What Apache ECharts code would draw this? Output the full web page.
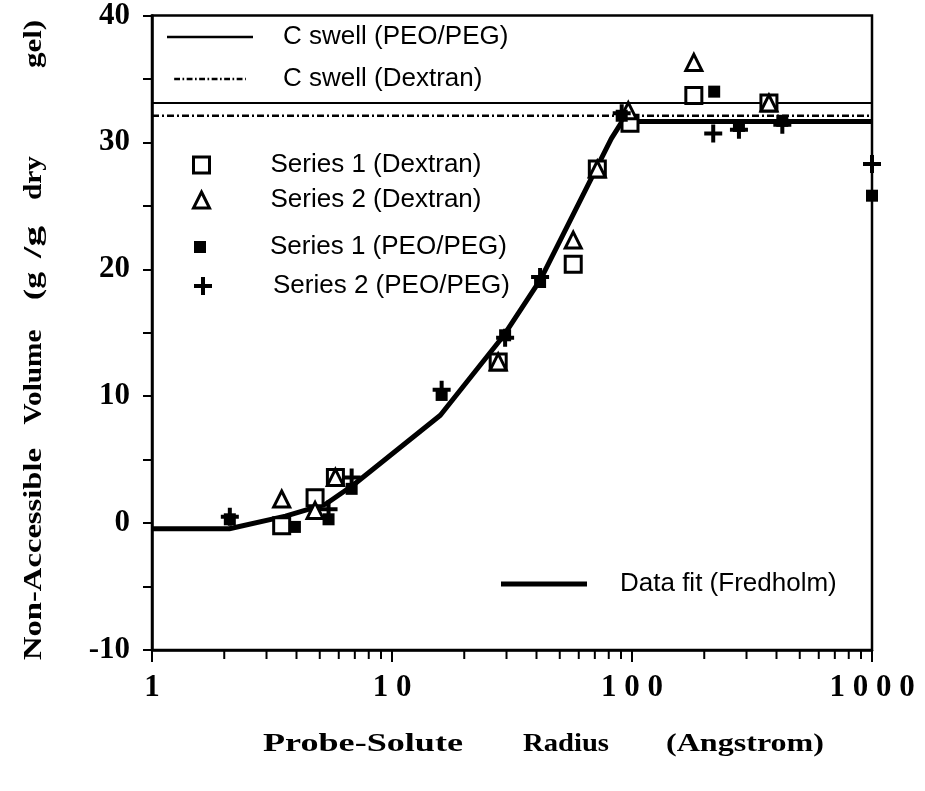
<!DOCTYPE html>
<html>
<head>
<meta charset="utf-8">
<script src="https://cdn.jsdelivr.net/npm/echarts@6/dist/echarts.min.js"></script>
<style>html,body{margin:0;padding:0;background:#fff}#c{width:925px;height:791px}</style>
</head>
<body>
<div id="c"></div>
<script>
// ---------- data ----------
const xTicks = [1, 10, 100, 1000];
const xTickLabels = ['1', '1 0', '1 0 0', '1 0 0 0'];
const xMinorTicks = [2,3,4,5,6,7,8,9,20,30,40,50,60,70,80,90,200,300,400,500,600,700,800,900];

const cSwellPEO = [[1, 33.1], [1000, 33.1]];
const cSwellDextran = [[1, 32.1], [1000, 32.1]];

const fitX = [1, 2.1, 3.6, 5.3, 6.9, 15.9, 29, 41.6, 82, 91, 1000];
const fitY = [-0.45, -0.45, 0.55, 1.5, 3.0, 8.5, 14.7, 19.2, 30.3, 31.65, 31.65];

const s1DextranX = [3.47, 4.78, 5.81, 27.7, 56.9, 71.7, 98.1, 181, 372];
const s1DextranY = [-0.2, 2.0, 3.6, 12.7, 20.4, 27.9, 31.5, 33.7, 33.1];

const s2DextranX = [3.47, 4.78, 5.81, 27.7, 56.9, 71.7, 96.5, 181, 372];
const s2DextranY = [1.9, 1.0, 3.6, 12.7, 22.3, 27.9, 32.5, 36.3, 33.1];

const s1PEOX = [2.11, 3.94, 5.44, 6.79, 16.1, 29.6, 41.4, 90.6, 220, 279, 423, 1000];
const s1PEOY = [0.3, -0.3, 0.3, 2.7, 10.1, 14.8, 19.0, 32.1, 34.0, 31.3, 31.7, 25.8];

const s2PEOX = [2.11, 5.44, 6.79, 16.1, 29.6, 41.4, 90.6, 218, 279, 423, 1000];
const s2PEOY = [0.5, 1.1, 3.6, 10.5, 14.6, 19.4, 32.3, 30.7, 31.0, 31.4, 28.3];

// ---------- helpers ----------
const zip = (xs, ys) => xs.map((x, i) => [x, ys[i]]);
const BLACK = '#000';
const LEG_FONT = 'Liberation Sans';
const SERIF = 'Liberation Serif';
const PLUS = 'path://M7,0H11V7H18V11H11V18H7V11H0V7H7Z';
const DASHDOT = [7, 3, 2, 3];

// dash-dot legend icon as a path of small bars (86 x 3 box)
const dashDotIcon = (() => {
  let d = '', x = 0, i = 0;
  while (x < 86) {
    const len = Math.min(DASHDOT[i % 4], 86 - x);
    if (i % 2 === 0) d += 'M' + x + ',0h' + len + 'v3h-' + len + 'z';
    x += DASHDOT[i % 4]; i++;
  }
  return 'path://' + d;
})();

const chart = echarts.init(document.getElementById('c'), null, {renderer: 'canvas'});

const measure = (() => {
  const ctx = document.createElement('canvas').getContext('2d');
  return (txt, font) => { ctx.font = font; return ctx.measureText(txt).width; };
})();

function titleWord(text, cx, cy, target, rotate) {
  const font = 'bold 25px "' + SERIF + '"';
  const w = measure(text, font) || target;
  return {
    type: 'text', x: cx, y: cy, rotation: rotate ? Math.PI / 2 : 0,
    scaleX: target / w, scaleY: 1, silent: true,
    style: {text: text, font: font, fill: BLACK, align: 'center', verticalAlign: 'middle'}
  };
}

const legText = (pad) => ({fontFamily: LEG_FONT, fontSize: 26, color: BLACK, lineHeight: 28, padding: [0, 0, 0, pad]});
const hollow = {color: '#fff', borderColor: BLACK, borderWidth: 3, opacity: 1};
const solidLeg = {color: BLACK, borderWidth: 0, opacity: 1};

const option = {
  animation: false,
  backgroundColor: '#fff',
  grid: {left: 152, right: 53, top: 15, bottom: 141, show: true, borderColor: BLACK, borderWidth: 2.5, backgroundColor: 'transparent'},
  xAxis: {
    type: 'log', logBase: 10, min: 1, max: 1000,
    axisLine: {show: true, onZero: false, lineStyle: {color: BLACK, width: 2.5}},
    axisTick: {show: true, length: 12, lineStyle: {color: BLACK, width: 2}},
    splitLine: {show: false},
    axisLabel: {
      color: BLACK, fontFamily: SERIF, fontWeight: 'bold', fontSize: 31, margin: 22,
      formatter: v => { const i = xTicks.indexOf(Math.round(v)); return i >= 0 ? xTickLabels[i] : ''; }
    }
  },
  yAxis: {
    type: 'value', min: -10, max: 40, interval: 10,
    axisLine: {show: true, onZero: false, lineStyle: {color: BLACK, width: 2.5}},
    axisTick: {show: true, length: 9, lineStyle: {color: BLACK, width: 2}},
    minorTick: {show: true, splitNumber: 2, length: 9, lineStyle: {color: BLACK, width: 2}},
    splitLine: {show: false},
    axisLabel: {color: BLACK, fontFamily: SERIF, fontWeight: 'bold', fontSize: 31, margin: 22}
  },
  legend: [
    {
      data: [
        {name: 'C swell (PEO/PEG)', icon: 'rect', itemStyle: solidLeg},
        {name: 'C swell (Dextran)', icon: dashDotIcon, itemStyle: solidLeg}
      ],
      orient: 'vertical', left: 167, top: 23, padding: 0, itemWidth: 86, itemHeight: 2.5, itemGap: 14,
      selectedMode: false, textStyle: legText(25)
    },
    {data: [{name: 'Series 1 (Dextran)', itemStyle: hollow}], left: 192, top: 151, padding: 0, itemWidth: 16, itemHeight: 16,
      selectedMode: false, textStyle: legText(56)},
    {data: [{name: 'Series 2 (Dextran)', itemStyle: hollow}], left: 192, top: 186, padding: 0, itemWidth: 16, itemHeight: 16,
      selectedMode: false, textStyle: legText(56)},
    {data: [{name: 'Series 1 (PEO/PEG)', itemStyle: solidLeg}], left: 194, top: 233, padding: 0, itemWidth: 12, itemHeight: 12,
      selectedMode: false, textStyle: legText(59)},
    {data: [{name: 'Series 2 (PEO/PEG)', itemStyle: solidLeg}], left: 194, top: 272, padding: 0, itemWidth: 18, itemHeight: 18,
      selectedMode: false, textStyle: legText(56)},
    {
      data: [{name: 'Data fit (Fredholm)', icon: 'rect', itemStyle: solidLeg}],
      left: 501, top: 570, padding: 0, itemWidth: 86, itemHeight: 5, selectedMode: false, textStyle: legText(28)
    }
  ],
  graphic: [
    titleWord('Probe-Solute', 363, 745, 200, false),
    titleWord('Radius', 566, 745, 86, false),
    titleWord('(Angstrom)', 745, 745, 158, false),
    titleWord('Non-Accessible', 35, 554, 212, true),
    titleWord('Volume', 35, 377, 95, true),
    titleWord('(g', 35, 286, 28, true),
    titleWord('/g', 35, 242, 32, true),
    titleWord('dry', 35, 178, 44, true),
    titleWord('gel)', 35, 44, 48, true)
  ],
  series: [
    {
      type: 'custom', name: 'minorTicks', data: xMinorTicks.map(v => [v, -10]), clip: false, silent: true, z: 5,
      renderItem: (params, api) => {
        const p = api.coord([api.value(0), api.value(1)]);
        return {type: 'line', shape: {x1: p[0], y1: p[1], x2: p[0], y2: p[1] + 9}, style: {stroke: BLACK, lineWidth: 2}};
      }
    },
    {name: 'C swell (PEO/PEG)', type: 'line', data: cSwellPEO, symbol: 'none', silent: true, z: 2,
      lineStyle: {color: BLACK, width: 2, type: 'solid'}, itemStyle: {color: BLACK}},
    {name: 'C swell (Dextran)', type: 'line', data: cSwellDextran, symbol: 'none', silent: true, z: 2,
      lineStyle: {color: BLACK, width: 2.5, type: DASHDOT}, itemStyle: {color: BLACK}},
    {name: 'Data fit (Fredholm)', type: 'line', data: zip(fitX, fitY), symbol: 'none', silent: true, z: 2,
      lineStyle: {color: BLACK, width: 5, join: 'round'}, itemStyle: {color: BLACK}},
    {name: 'Series 1 (Dextran)', type: 'scatter', data: zip(s1DextranX, s1DextranY), symbol: 'rect', symbolSize: 16,
      clip: false, z: 3, itemStyle: hollow, emphasis: {disabled: true}},
    {name: 'Series 2 (Dextran)', type: 'scatter', data: zip(s2DextranX, s2DextranY), symbol: 'triangle', symbolSize: 16,
      clip: false, z: 4, itemStyle: hollow, emphasis: {disabled: true}},
    {name: 'Series 1 (PEO/PEG)', type: 'scatter', data: zip(s1PEOX, s1PEOY), symbol: 'rect', symbolSize: 12,
      clip: false, z: 5, itemStyle: {color: BLACK, opacity: 1}, emphasis: {disabled: true}},
    {name: 'Series 2 (PEO/PEG)', type: 'scatter', data: zip(s2PEOX, s2PEOY), symbol: PLUS, symbolSize: 18,
      clip: false, z: 6, itemStyle: {color: BLACK, opacity: 1}, emphasis: {disabled: true}}
  ]
};

chart.setOption(option);
</script>
</body>
</html>
